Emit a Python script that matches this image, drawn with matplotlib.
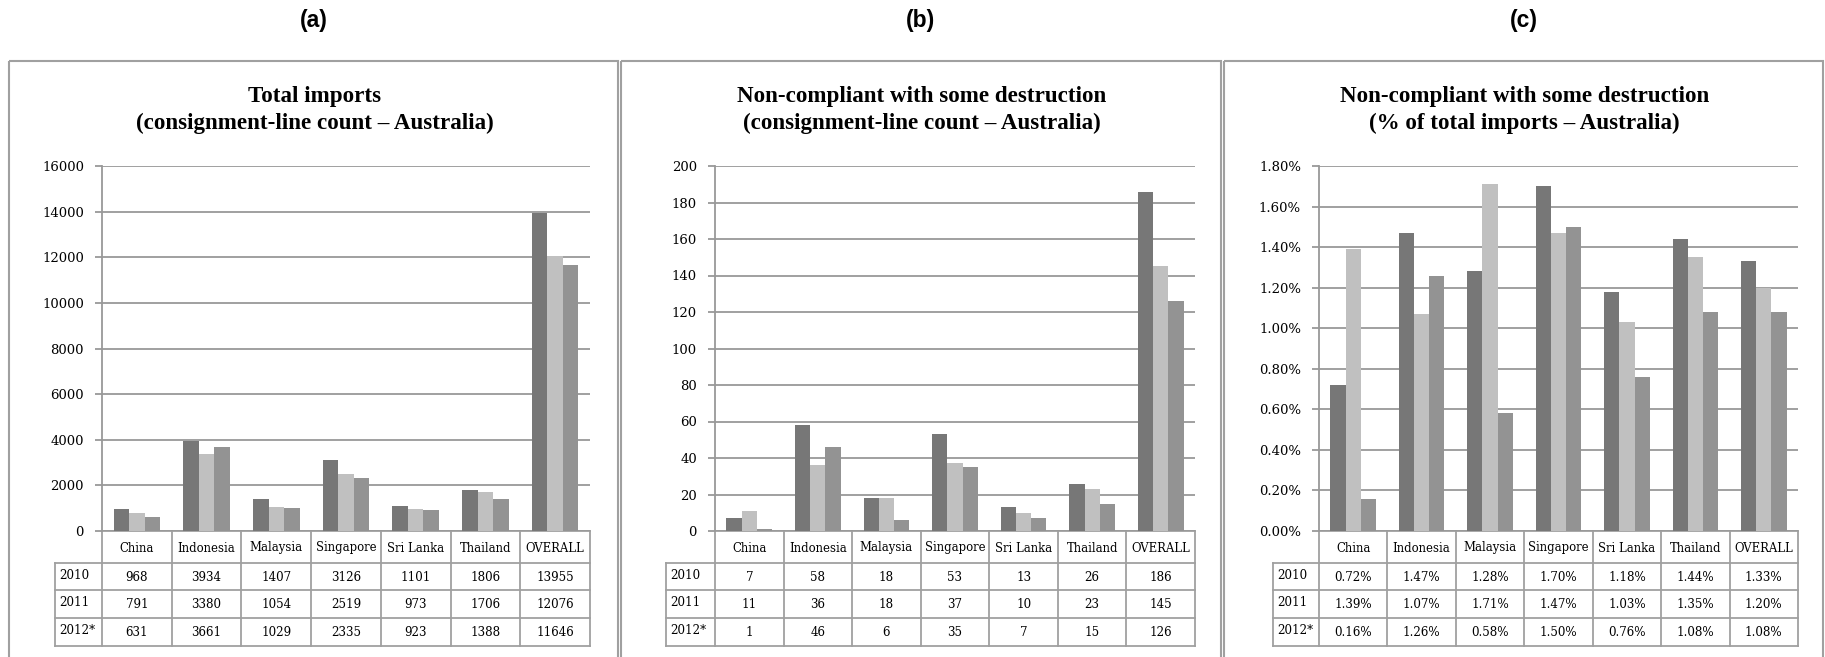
import matplotlib
matplotlib.use("Agg")
import matplotlib.pyplot as plt
from matplotlib.patches import Rectangle
import numpy as np

categories = ["China", "Indonesia", "Malaysia", "Singapore", "Sri Lanka", "Thailand", "OVERALL"]
years = ["2010", "2011", "2012*"]

imports_2010 = [968, 3934, 1407, 3126, 1101, 1806, 13955]
imports_2011 = [791, 3380, 1054, 2519, 973, 1706, 12076]
imports_2012 = [631, 3661, 1029, 2335, 923, 1388, 11646]

noncomp_2010 = [7, 58, 18, 53, 13, 26, 186]
noncomp_2011 = [11, 36, 18, 37, 10, 23, 145]
noncomp_2012 = [1, 46, 6, 35, 7, 15, 126]

pct_2010 = [0.72, 1.47, 1.28, 1.70, 1.18, 1.44, 1.33]
pct_2011 = [1.39, 1.07, 1.71, 1.47, 1.03, 1.35, 1.20]
pct_2012 = [0.16, 1.26, 0.58, 1.50, 0.76, 1.08, 1.08]

panel_labels = ["(a)", "(b)", "(c)"]
titles = ["Total imports\n(consignment-line count \u2013 Australia)",
          "Non-compliant with some destruction\n(consignment-line count \u2013 Australia)",
          "Non-compliant with some destruction\n(% of total imports \u2013 Australia)"]

colors = ["#777777", "#c0c0c0", "#939393"]
grid_c = "#999999"
line_c = "#a0a0a0"

W, H = 1825, 657
fig = plt.figure(figsize=(W / 100, H / 100), dpi=100)
ov = fig.add_axes([0, 0, 1, 1])
ov.set_xlim(0, W)
ov.set_ylim(H, 0)
ov.axis("off")

SERIF = "DejaVu Serif"

# layout (pixels)
boxes = [(9, 618), (621, 1221), (1224, 1823)]
axes_x = [(102, 590), (715, 1195), (1319, 1798)]
table_left = [55, 666, 1273]
y_top, y_zero = 166, 531
row_edges = [531, 563, 590, 618, 646]

panels = [
    ([imports_2010, imports_2011, imports_2012], 16000, 2000, lambda v: f"{v:.0f}", lambda v: f"{v}"),
    ([noncomp_2010, noncomp_2011, noncomp_2012], 200, 20, lambda v: f"{v:.0f}", lambda v: f"{v}"),
    ([pct_2010, pct_2011, pct_2012], 1.8, 0.2, lambda v: f"{v:.2f}%", lambda v: f"{v:.2f}%"),
]

n = len(categories)
x = np.arange(n)
bw = 0.667 / 3

for p, (series, ymax, ystep, tickfmt, cellfmt) in enumerate(panels):
    bx0, bx1 = boxes[p]
    ov.add_patch(Rectangle((bx0, 61), bx1 - bx0, H + 20, fill=False, edgecolor=line_c, lw=1.5))
    cx = (bx0 + bx1) / 2
    ov.text(cx, 20, panel_labels[p], ha="center", va="center", fontsize=16.5,
            fontweight="bold", family="Liberation Sans")
    ov.text(cx + 1, 110, titles[p], ha="center", va="center", fontsize=16.6,
            fontweight="bold", family="Liberation Serif", linespacing=1.3)

    axl, axr = axes_x[p]
    ax = fig.add_axes([axl / W, (H - y_zero) / H, (axr - axl) / W, (y_zero - y_top) / H])
    for k, vals in enumerate(series):
        ax.bar(x + (k - 1) * bw, vals, width=bw, color=colors[k], zorder=3)
    ax.set_xlim(-0.5, n - 0.5)
    ax.set_ylim(0, ymax)
    ticks = np.arange(0, ymax + ystep / 2, ystep)
    ax.set_yticks(ticks)
    ax.set_yticklabels([tickfmt(t) for t in ticks], family=SERIF, fontsize=9.5)
    ax.set_xticks([])
    ax.grid(axis="y", color=grid_c, lw=1.3, zorder=0)
    for s in ["top", "right", "bottom"]:
        ax.spines[s].set_visible(False)
    ax.spines["left"].set_color(grid_c)
    ax.spines["left"].set_linewidth(1.3)
    ax.tick_params(axis="y", length=5, color=grid_c, width=1.3, pad=8)
    ax.patch.set_alpha(0)

    # data table
    tl = table_left[p]
    slot = (axr - axl) / n
    col_edges = [axl + i * slot for i in range(n + 1)]
    lw = 1.3
    ov.plot([axl, axr], [row_edges[0], row_edges[0]], color=line_c, lw=lw)
    for ce in col_edges:
        ov.plot([ce, ce], [row_edges[0], row_edges[-1]], color=line_c, lw=lw)
    for r in range(1, len(row_edges)):
        ov.plot([tl, axr], [row_edges[r], row_edges[r]], color=line_c, lw=lw)
    ov.plot([tl, tl], [row_edges[1], row_edges[-1]], color=line_c, lw=lw)
    for i, c in enumerate(categories):
        ov.text(axl + (i + 0.5) * slot, (row_edges[0] + row_edges[1]) / 2 + 1, c,
                ha="center", va="center", fontsize=8.4, family=SERIF)
    for k, vals in enumerate(series):
        yc = (row_edges[k + 1] + row_edges[k + 2]) / 2
        ov.text(tl + 4, yc - 1, years[k], ha="left", va="center", fontsize=8.6, family=SERIF)
        for i, v in enumerate(vals):
            ov.text(axl + (i + 0.5) * slot, yc + 1, cellfmt(v), ha="center", va="center",
                    fontsize=8.6, family=SERIF)

fig.savefig("out.png", dpi=100, facecolor="white")
